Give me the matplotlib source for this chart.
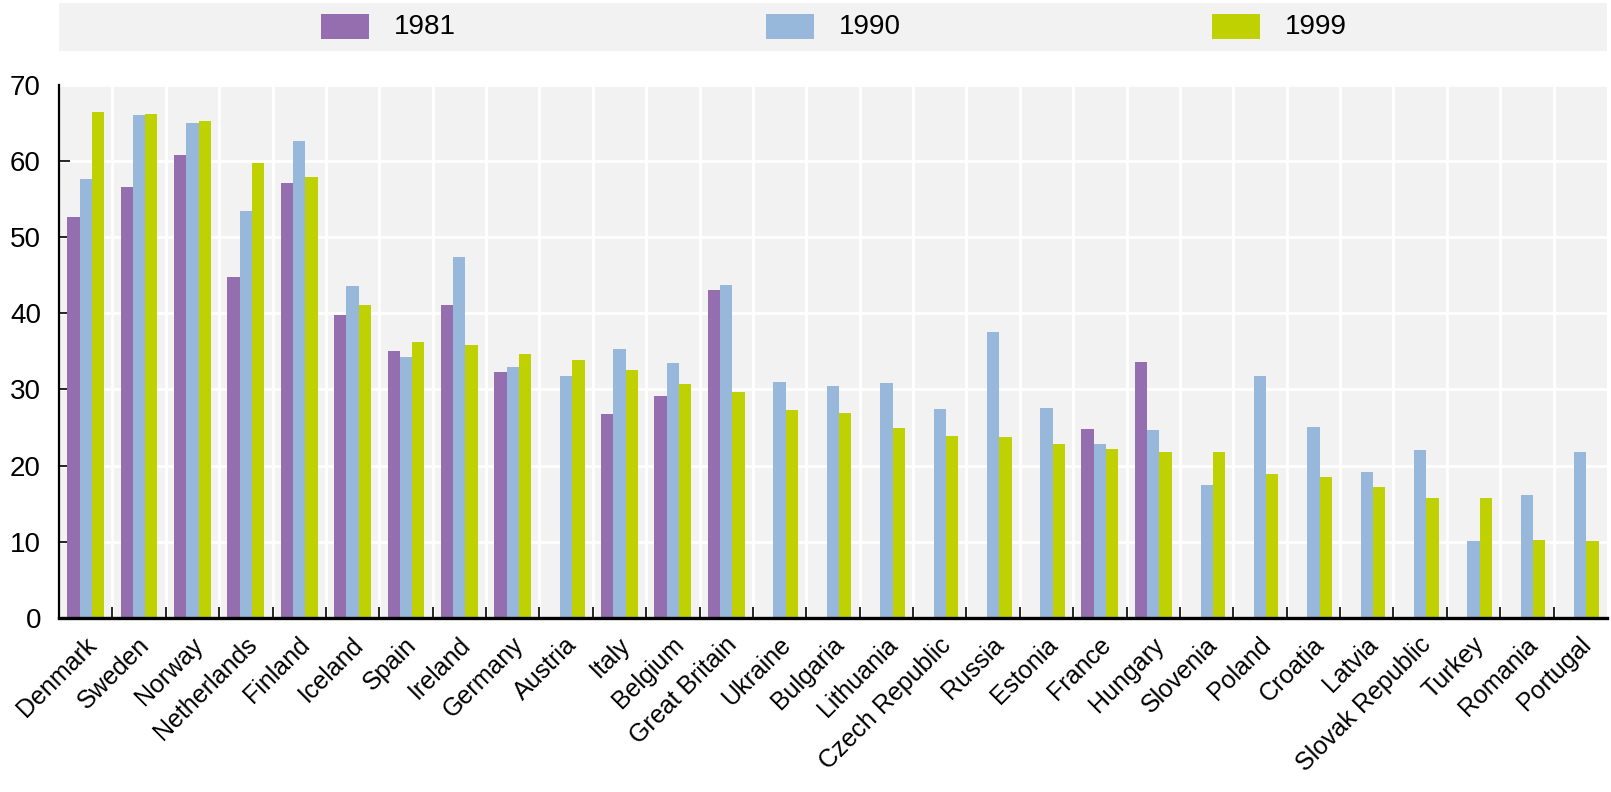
import numpy as np
import matplotlib
matplotlib.use("Agg")
import matplotlib.pyplot as plt
from matplotlib.patches import Rectangle
from matplotlib.transforms import ScaledTranslation

plt.rcParams['font.family'] = ['Liberation Sans', 'DejaVu Sans']

countries = ['Denmark', 'Sweden', 'Norway', 'Netherlands', 'Finland', 'Iceland',
             'Spain', 'Ireland', 'Germany', 'Austria', 'Italy', 'Belgium',
             'Great Britain', 'Ukraine', 'Bulgaria', 'Lithuania', 'Czech Republic',
             'Russia', 'Estonia', 'France', 'Hungary', 'Slovenia', 'Poland',
             'Croatia', 'Latvia', 'Slovak Republic', 'Turkey', 'Romania', 'Portugal']
nan = np.nan
v1981 = [52.6, 56.6, 60.8, 44.8, 57.1, 39.8, 35.0, 41.1, 32.3, nan, 26.8, 29.1,
         43.1, nan, nan, nan, nan, nan, nan, 24.8, 33.6, nan, nan,
         nan, nan, nan, nan, nan, nan]
v1990 = [57.6, 66.0, 65.0, 53.4, 62.6, 43.6, 34.2, 47.4, 33.0, 31.8, 35.3, 33.5,
         43.7, 31.0, 30.4, 30.8, 27.4, 37.5, 27.5, 22.8, 24.7, 17.4, 31.8,
         25.1, 19.1, 22.0, 10.1, 16.1, 21.8]
v1999 = [66.4, 66.2, 65.3, 59.7, 57.9, 41.1, 36.2, 35.8, 34.6, 33.9, 32.5, 30.7,
         29.7, 27.3, 26.9, 24.9, 23.9, 23.7, 22.8, 22.2, 21.8, 21.8, 18.9,
         18.5, 17.2, 15.7, 15.7, 10.2, 10.1]
years = ['1981', '1990', '1999']
colors = ['#946eae', '#97b8db', '#bfd100']
bg = '#f2f2f2'

fig = plt.figure(figsize=(16.11, 7.92), dpi=100)
W, H = 1611, 792
ax = fig.add_axes([59 / W, (H - 617.7) / H, 1548 / W, 532.7 / H])
ax.set_facecolor(bg)

x = np.arange(len(countries))
w = 0.23
for k, vals in enumerate([v1981, v1990, v1999]):
    ax.bar(x + (k - 1) * w, vals, width=w, color=colors[k], zorder=3, linewidth=0)

ax.set_xlim(-0.5, len(countries) - 0.5)
ax.set_ylim(0, 70)
ax.set_yticks(range(0, 80, 10))
ax.set_xticks(x)
ax.set_xticks(np.arange(0.5, len(countries) - 1, 1.0), minor=True)

ax.grid(True, axis='y', which='major', color='white', linewidth=2, zorder=1)
ax.grid(True, axis='x', which='minor', color='white', linewidth=2, zorder=1)
ax.grid(False, axis='x', which='major')

for s in ['top', 'right']:
    ax.spines[s].set_visible(False)
ax.spines['left'].set_linewidth(1.6)
ax.spines['bottom'].set_linewidth(2.4)
ax.spines['left'].set_zorder(5)
ax.spines['bottom'].set_zorder(5)

ax.tick_params(axis='y', direction='in', length=8, width=1.2, labelsize=20, pad=13)
ax.tick_params(axis='x', which='major', length=0, labelsize=18, pad=17)
ax.tick_params(axis='x', which='minor', direction='in', length=8, width=1.2)
ax.yaxis.get_major_ticks()[-1].tick1line.set_visible(False)

ax.set_xticklabels(countries, rotation=45, ha='right', va='center', rotation_mode='anchor')
shift = ScaledTranslation(0.07, 0, fig.dpi_scale_trans)
for lab in ax.get_xticklabels():
    lab.set_transform(lab.get_transform() + shift)

# legend band at the top
lax = fig.add_axes([59 / W, (H - 51) / H, 1548 / W, 48 / H])
lax.set_facecolor(bg)
lax.set_xlim(59, 1607)
lax.set_ylim(51, 3)
lax.set_xticks([])
lax.set_yticks([])
for s in lax.spines.values():
    s.set_visible(False)
for px, year, c in zip([321, 766, 1212], years, colors):
    lax.add_patch(Rectangle((px, 14), 48, 25, color=c, linewidth=0))
    lax.text(px + 73, 26.5, year, fontsize=20, va='center', ha='left')

fig.savefig('out.png', dpi=100, facecolor='white')
